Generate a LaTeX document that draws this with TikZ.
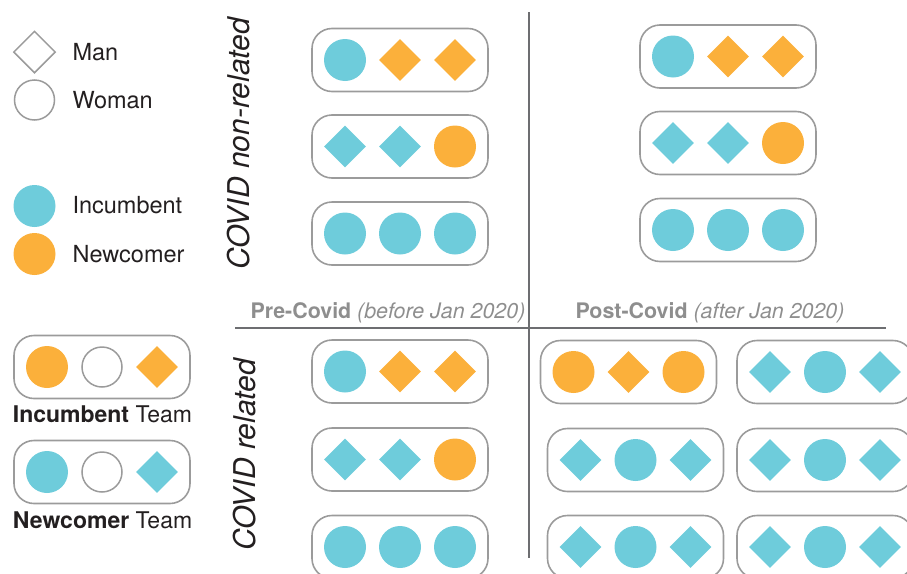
\documentclass[tikz,border=0pt]{standalone}
\usepackage{fontspec}
\setmainfont{TeX Gyre Heros}
\usetikzlibrary{shapes.geometric}
\definecolor{incblue}{HTML}{6ECCDB}
\definecolor{neworange}{HTML}{FBB03B}
\definecolor{boxgray}{HTML}{9B9B9B}
\definecolor{inkgray}{HTML}{231F20}
\definecolor{headgray}{HTML}{8E8E8E}
\definecolor{axisgray}{HTML}{6D6E71}
\tikzset{
	woman/.style={circle,minimum size=42pt,inner sep=0pt},
	man/.style={diamond,minimum size=42pt,inner sep=0pt},
	bluewoman/.style={woman,fill=incblue},
	blueman/.style={man,fill=incblue},
	orangewoman/.style={woman,fill=neworange},
	orangeman/.style={man,fill=neworange},
	blankwoman/.style={woman,draw=boxgray,line width=1.5pt,minimum size=40pt},
	blankman/.style={man,draw=boxgray,line width=1.5pt,minimum size=42pt},
	teambox/.style={rectangle,rounded corners=20pt,draw=boxgray,line width=1.6pt,minimum width=176pt,minimum height=63pt},
	legendtext/.style={anchor=west,text=inkgray,font=\fontsize{23.5}{28}\selectfont},
	teamlabel/.style={text=inkgray,font=\fontsize{23}{27}\selectfont},
	sidelabel/.style={rotate=90,text=inkgray,font=\fontsize{30}{35}\selectfont\itshape},
	headlabel/.style={text=headgray,font=\fontsize{21.4}{25}\selectfont}
}
\newcommand\teamrow[4]{%
	\node[teambox] (#1) at (#2,#3) {};
	\foreach \look [count=\i] in {#4}
		\node[\look] (#1-\i) at ([xshift=(\i-2)*55pt]#1.center) {};
}
\begin{document}
\begin{tikzpicture}[x=1pt,y=-1pt]
		\useasboundingbox (0,0) rectangle (907,573);
		\node[blankman] (man) at (34.5,52) {};
		\node[legendtext] (manlabel) at (69,52) {Man};
		\node[blankwoman] (woman) at (34.5,100) {};
		\node[legendtext] (womanlabel) at (69,100) {Woman};
		\node[bluewoman] (inc) at (34.5,206) {};
		\node[legendtext] (inclabel) at (69,205) {Incumbent};
		\node[orangewoman] (new) at (34.5,254) {};
		\node[legendtext] (newlabel) at (69,254) {Newcomer};
		\teamrow{incteam}{102}{367}{orangewoman,blankwoman,orangeman}
		\node[teamlabel] (incteamlabel) at (102.5,414) {\textbf{Incumbent} Team};
		\teamrow{newteam}{102}{472}{bluewoman,blankwoman,blueman}
		\node[teamlabel] (newteamlabel) at (102.5,520) {\textbf{Newcomer} Team};
		\node[sidelabel] (nonrel) at (239,144) {COVID non-related};
		\node[sidelabel] (rel) at (245,455) {COVID related};
		\coordinate (vtop) at (529,12);
		\coordinate (vbot) at (529,558);
		\coordinate (hleft) at (235,328);
		\coordinate (hright) at (886,328);
		\draw[axisgray,line width=1.5pt] (vtop) -- (vbot);
		\draw[axisgray,line width=1.5pt] (hleft) -- (hright);
		\node[headlabel] (pre) at (388,313) {\textbf{Pre-Covid} \textit{(before Jan 2020)}};
		\node[headlabel] (post) at (710,313) {\textbf{Post-Covid} \textit{(after Jan 2020)}};
		\teamrow{prenonA}{400}{60}{bluewoman,orangeman,orangeman}
		\teamrow{prenonB}{400}{146.5}{blueman,blueman,orangewoman}
		\teamrow{prenonC}{400}{233.5}{bluewoman,bluewoman,bluewoman}
		\teamrow{postnonA}{728}{56.5}{bluewoman,orangeman,orangeman}
		\teamrow{postnonB}{728}{143}{blueman,blueman,orangewoman}
		\teamrow{postnonC}{728}{230}{bluewoman,bluewoman,bluewoman}
		\teamrow{prerelA}{400}{371.5}{bluewoman,orangeman,orangeman}
		\teamrow{prerelB}{400}{459.5}{blueman,blueman,orangewoman}
		\teamrow{prerelC}{400}{547}{bluewoman,bluewoman,bluewoman}
		\teamrow{postrelA}{628.5}{372}{orangewoman,orangeman,orangewoman}
		\teamrow{postrelB}{825}{372}{blueman,bluewoman,blueman}
		\teamrow{postrelC}{635.5}{460}{blueman,bluewoman,blueman}
		\teamrow{postrelD}{825}{460}{blueman,bluewoman,blueman}
		\teamrow{postrelE}{635.5}{547}{blueman,bluewoman,blueman}
		\teamrow{postrelF}{825}{547}{blueman,bluewoman,blueman}
\end{tikzpicture}
\end{document}
